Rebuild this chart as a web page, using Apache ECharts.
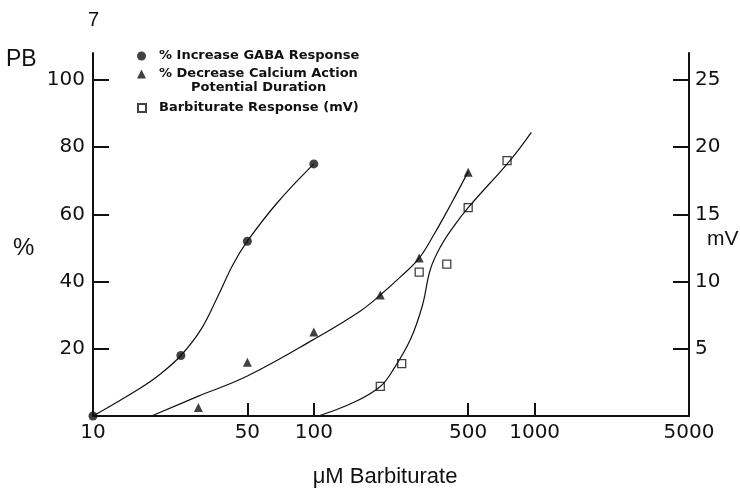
<!DOCTYPE html>
<html>
<head>
<meta charset="utf-8">
<script src="https://cdn.jsdelivr.net/npm/echarts@6/dist/echarts.min.js"></script>
<style>
html, body { margin: 0; padding: 0; background: #fff; }
#chart { width: 740px; height: 493px; }
</style>
</head>
<body>
<div id="chart"></div>
<script>
// measured points (x = uM barbiturate)
var gabaDose = [10, 25, 50, 100];
var gabaPct = [0, 18, 52, 75];
var calcDose = [30, 50, 100, 200, 300, 500];
var calcPct = [2.5, 16, 25, 36, 47, 72.5];
var barbDose = [200, 250, 300, 400, 500, 750];
var barbMv = [2.2, 3.9, 10.7, 11.3, 15.5, 19];

// hand drawn curves
var gabaCurveDose = [10, 16, 20, 25, 31, 37, 43, 50, 68, 100];
var gabaCurvePct = [0, 7.9, 12.3, 18, 26, 36, 45, 52, 63.3, 75];
var calcCurveDose = [18.4, 30, 50, 100, 162, 200, 246, 300, 350, 420, 500];
var calcCurvePct = [0, 5.9, 11.9, 22.8, 31.2, 36, 41.3, 47, 54, 63.3, 72.7];
var barbCurveDose = [105, 151, 200, 230, 274, 310, 337, 375, 430, 500, 773, 966];
var barbCurveMv = [0, 1.0, 2.2, 3.5, 5.7, 8.2, 10.9, 12.6, 14.1, 15.5, 19.0, 21.1];

var xTickLabels = [10, 50, 100, 500, 1000, 5000];
var pctTickLabels = [20, 40, 60, 80, 100];
var mvTickLabels = [5, 10, 15, 20, 25];

var GABA = '% Increase GABA Response';
var CALC = '% Decrease Calcium Action Potential Duration';
var BARB = 'Barbiturate Response (mV)';

function pairs(xs, ys) {
    return xs.map(function (x, i) { return [x, ys[i]]; });
}

var ink = '#111';
var tickFont = { fontFamily: 'DejaVu Sans', fontSize: 20, color: ink };
var legendFont = { fontFamily: 'DejaVu Sans', fontWeight: 'bold', fontSize: 13,
                   color: ink, lineHeight: 16, padding: [0, 0, 0, 8] };

var chart = echarts.init(document.getElementById('chart'));

var option = {
    animation: false,
    backgroundColor: '#fff',
    grid: { left: 93, right: 51, top: 53, bottom: 76 },
    legend: [
        {
            data: [GABA, CALC],
            orient: 'vertical',
            left: 132, top: 43,
            itemWidth: 9, itemHeight: 9, itemGap: 2,
            selectedMode: false,
            formatter: function (name) {
                return name == CALC ? '% Decrease Calcium Action' : name;
            },
            textStyle: legendFont
        },
        {
            data: [BARB],
            orient: 'vertical',
            left: 132, top: 95,
            itemWidth: 8, itemHeight: 8,
            selectedMode: false,
            textStyle: legendFont
        }
    ],
    graphic: [
        { type: 'text', left: 191, top: 81,
          style: { text: 'Potential Duration', fontFamily: 'DejaVu Sans', fontWeight: 'bold', fontSize: 13, fill: ink } },
        { type: 'text', left: 88, top: 10,
          style: { text: '7', fontFamily: 'Liberation Sans', fontSize: 20, fill: ink } },
        { type: 'text', left: 6, top: 48,
          style: { text: 'PB', fontFamily: 'Liberation Sans', fontSize: 23, fill: ink } },
        { type: 'text', left: 13, top: 236,
          style: { text: '%', fontFamily: 'Liberation Sans', fontSize: 24, fill: ink } },
        { type: 'text', left: 707, top: 229,
          style: { text: 'mV', fontFamily: 'Liberation Sans', fontSize: 21, fill: ink } }
    ],
    xAxis: {
        type: 'log',
        logBase: 10,
        min: 10,
        max: 5000,
        name: 'μM Barbiturate',
        nameLocation: 'middle',
        nameGap: 50,
        nameTextStyle: { fontFamily: 'Liberation Sans', fontSize: 22, color: ink, padding: [0, 12, 0, 0] },
        axisLine: { onZero: false, lineStyle: { color: ink, width: 2 } },
        axisTick: { inside: true, length: 13, customValues: [50, 100, 500, 1000],
                    lineStyle: { color: ink, width: 2 } },
        axisLabel: Object.assign({ customValues: xTickLabels, margin: 7,
                                   formatter: function (v) { return String(Math.round(v)); } }, tickFont),
        minorTick: { show: false },
        splitLine: { show: false }
    },
    yAxis: [
        {
            type: 'value',
            position: 'left',
            min: 0,
            max: 108,
            axisLine: { show: true, onZero: false, lineStyle: { color: ink, width: 2 } },
            axisTick: { inside: true, length: 16, customValues: pctTickLabels,
                        lineStyle: { color: ink, width: 2 } },
            axisLabel: Object.assign({ customValues: pctTickLabels, margin: 8 }, tickFont),
            splitLine: { show: false }
        },
        {
            type: 'value',
            position: 'right',
            min: 0,
            max: 27,
            axisLine: { show: true, onZero: false, lineStyle: { color: ink, width: 2 } },
            axisTick: { inside: true, length: 16, customValues: mvTickLabels,
                        lineStyle: { color: ink, width: 2 } },
            axisLabel: Object.assign({ customValues: mvTickLabels, margin: 6 }, tickFont),
            splitLine: { show: false }
        }
    ],
    series: [
        {
            name: 'GABA curve', type: 'line', yAxisIndex: 0,
            data: pairs(gabaCurveDose, gabaCurvePct),
            smooth: 0.4, showSymbol: false, silent: true,
            lineStyle: { color: ink, width: 1.2 }
        },
        {
            name: 'Calcium curve', type: 'line', yAxisIndex: 0,
            data: pairs(calcCurveDose, calcCurvePct),
            smooth: 0.4, showSymbol: false, silent: true,
            lineStyle: { color: ink, width: 1.2 }
        },
        {
            name: 'Barbiturate curve', type: 'line', yAxisIndex: 1,
            data: pairs(barbCurveDose, barbCurveMv),
            smooth: 0.4, showSymbol: false, silent: true,
            lineStyle: { color: ink, width: 1.2 }
        },
        {
            name: GABA, type: 'scatter', yAxisIndex: 0,
            data: pairs(gabaDose, gabaPct),
            symbol: 'circle', symbolSize: 9,
            itemStyle: { color: ink }
        },
        {
            name: CALC, type: 'scatter', yAxisIndex: 0,
            data: pairs(calcDose, calcPct),
            symbol: 'triangle', symbolSize: 9,
            itemStyle: { color: ink }
        },
        {
            name: BARB, type: 'scatter', yAxisIndex: 1,
            data: pairs(barbDose, barbMv),
            symbol: 'rect', symbolSize: 8,
            itemStyle: { color: '#fff', borderColor: ink, borderWidth: 1.3 }
        }
    ]
};

chart.setOption(option);
</script>
</body>
</html>
